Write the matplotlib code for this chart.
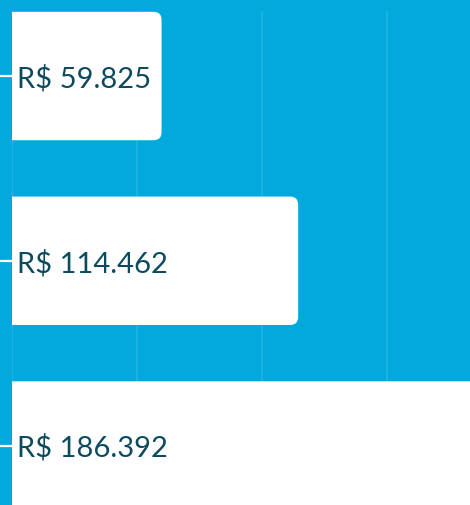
"""Horizontal bar chart of R$ totals with rounded white bars on a blue field."""
import matplotlib

matplotlib.use("Agg")
import matplotlib.pyplot as plt
from matplotlib.patches import FancyBboxPatch

categories = ["a", "b", "c"]
values = [59825, 114462, 186392]
labels = ["R$ 59.825", "R$ 114.462", "R$ 186.392"]
grid_ticks = [0, 50000, 100000, 150000]

BG = "#03a9dc"
GRID = "#22b4e2"
TEXT = "#0e4a5e"

W, H, DPI = 470, 505, 100
fig = plt.figure(figsize=(W / DPI, H / DPI), dpi=DPI, facecolor=BG)
ax = fig.add_axes([12 / W, 0, 1 - 12 / W, 1 - 11 / H], facecolor=BG)

ypos = list(range(len(categories)))
ax.set_xlim(0, 183200)
ax.set_ylim(2.322, -0.352)

for g in grid_ticks:
    ax.axvline(g, color=GRID, lw=1.2, zorder=0)

# rounded bars; rounding expressed in x units, aspect fixes y
x_per_px = 183200 / (W - 12)
y_per_px = (2.322 + 0.352) / (H - 11)
r = 8 * x_per_px
height = 0.695
for y, v, lab in zip(ypos, values, labels):
    box = FancyBboxPatch((-3 * r, y - height / 2), v + 3 * r, height,
                         boxstyle=f"round,pad=0,rounding_size={r}",
                         mutation_aspect=y_per_px / x_per_px,
                         fc="white", ec="none", zorder=2)
    ax.add_patch(box)
    ax.text(5 * x_per_px, y + 2.5 * y_per_px, lab, color=TEXT, fontsize=21,
            family=["Lato", "DejaVu Sans"], va="center", ha="left", zorder=3)

for s in ax.spines.values():
    s.set_visible(False)
ax.set_yticks(ypos)
ax.set_yticklabels([])
ax.set_xticks([])
ax.tick_params(axis="y", length=8.5, width=1.6, color="white", direction="out")

fig.savefig("out.png", dpi=DPI, facecolor=BG)
